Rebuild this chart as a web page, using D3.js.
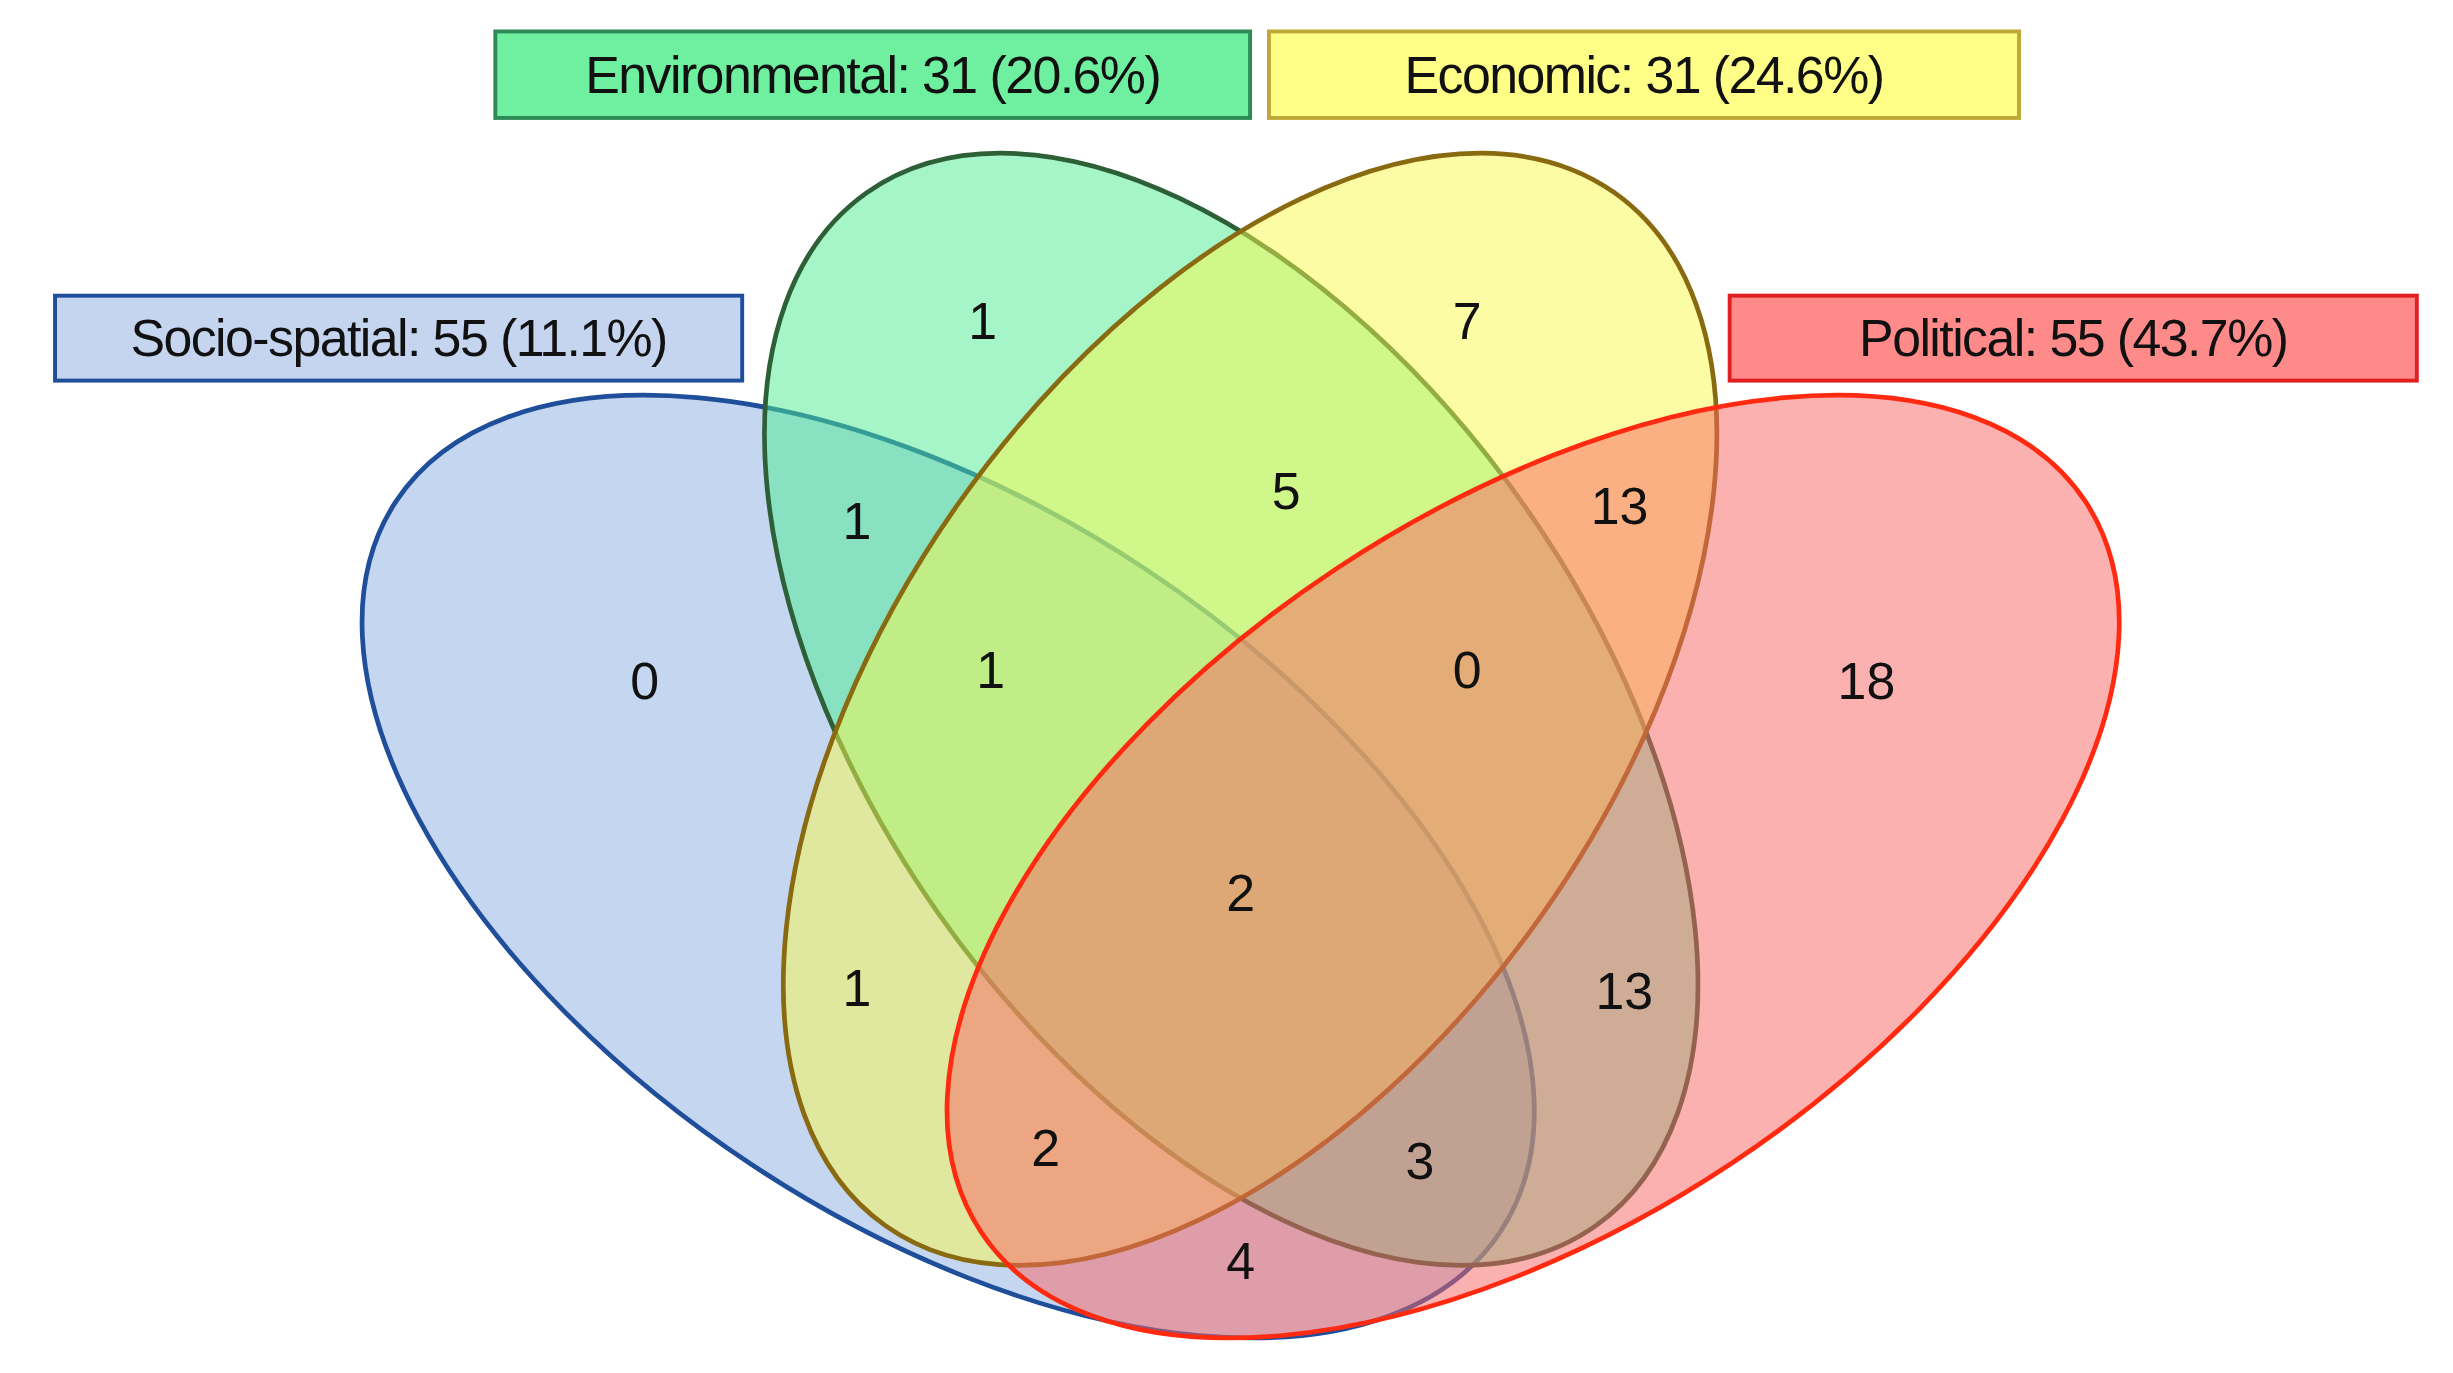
<!DOCTYPE html>
<html><head><meta charset="utf-8">
<script src="https://cdn.jsdelivr.net/npm/d3@7"></script>
<style>html,body{margin:0;padding:0;background:#fff;overflow:hidden}</style>
</head><body>
<svg id="c" width="2453" height="1373"></svg>
<script>
const setNames = ["Socio-spatial", "Environmental", "Economic", "Political"];
const setTotals = [55, 31, 31, 55];
const setPercents = ["11.1%", "20.6%", "24.6%", "43.7%"];
// region counts: S, E, Ec, P, S&E, E&Ec, Ec&P, S&E&Ec, E&Ec&P, all, S&Ec, S&Ec&P, S&E&P, E&P, S&P
const regionValues = [0, 1, 7, 18, 1, 5, 13, 1, 0, 2, 1, 2, 3, 13, 4];

// layout (reference units, 1560 x 873)
const regionPos = [[410,433],[625,204],[933,204],[1187,433],[545,331],[818,312],[1030,322],[630,426],[933,426],[789,568],[545,628],[665,730],[903,738],[1033,630],[789,802]];
const ellipses = [
  {cx:603,cy:551,a:421,b:227,r:33.5, fill:"rgb(140,175,225)", stroke:"#1f4e9a"},
  {cx:783,cy:451,a:402,b:227,r:54.8, fill:"rgb(76,235,145)", stroke:"#2e6038"},
  {cx:795,cy:451,a:402,b:227,r:-54.8, fill:"rgb(250,250,75)", stroke:"#8a6a10"},
  {cx:975,cy:551,a:421,b:227,r:-33.5, fill:"rgb(250,100,100)", stroke:"#ff2a10"}
];
const boxes = [
  {x:35,y:188,w:437,h:54,fill:"#c5d5f0",stroke:"#1f4e9a"},
  {x:315,y:20,w:480,h:55,fill:"#6ef0a0",stroke:"#2e8b57"},
  {x:807,y:20,w:477,h:55,fill:"#ffff88",stroke:"#c0a838"},
  {x:1100,y:188,w:437,h:54,fill:"#ff8a8a",stroke:"#e02020"}
];

const W=1560,H=873;
const k=2453/W, ky=1373/H;
const svg=d3.select("#c");
const g=svg.append("g").attr("transform",`scale(${k},${ky})`);
const font="'Liberation Sans', Arial, sans-serif";

g.selectAll("ellipse.f").data(ellipses).join("ellipse")
  .attr("transform",d=>`translate(${d.cx},${d.cy}) rotate(${d.r})`)
  .attr("rx",d=>d.a).attr("ry",d=>d.b)
  .attr("fill",d=>d.fill).attr("fill-opacity",0.5)
  .attr("stroke",d=>d.stroke).attr("stroke-width",3);

g.selectAll("text.n").data(regionValues).join("text")
  .attr("x",(d,i)=>regionPos[i][0]).attr("y",(d,i)=>regionPos[i][1])
  .attr("text-anchor","middle").attr("dominant-baseline","central")
  .attr("font-family",font).attr("font-size",33).attr("fill","#111")
  .text(d=>d);

const bg=g.selectAll("g.b").data(setNames).join("g");
bg.append("rect").attr("x",(d,i)=>boxes[i].x).attr("y",(d,i)=>boxes[i].y)
  .attr("width",(d,i)=>boxes[i].w).attr("height",(d,i)=>boxes[i].h)
  .attr("fill",(d,i)=>boxes[i].fill).attr("stroke",(d,i)=>boxes[i].stroke).attr("stroke-width",2.5);
bg.append("text").attr("x",(d,i)=>boxes[i].x+boxes[i].w/2).attr("y",(d,i)=>boxes[i].y+boxes[i].h/2)
  .attr("text-anchor","middle").attr("dominant-baseline","central")
  .attr("font-family",font).attr("font-size",33).attr("letter-spacing",-1).attr("fill","#111")
  .text((d,i)=>`${d}: ${setTotals[i]} (${setPercents[i]})`);
</script>
</body></html>
